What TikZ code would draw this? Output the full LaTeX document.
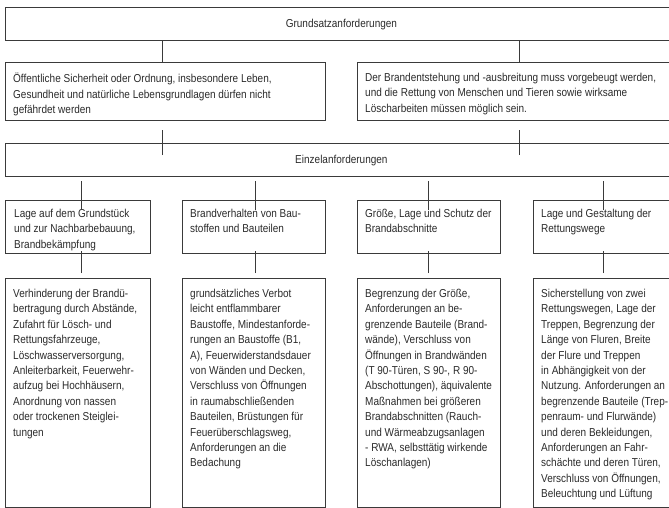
\documentclass[tikz,border=0pt]{standalone}
\usepackage{fontspec}
\setmainfont{Liberation Sans}[FakeStretch=0.87]
\definecolor{linec}{HTML}{3A3A3A}
\definecolor{textc}{HTML}{2A2A2A}
\newcommand{\fs}{\fontsize{11.5}{15.4}\selectfont}
\begin{document}
\begin{tikzpicture}[x=1pt,y=-1pt,
  box/.style={draw=linec, line width=0.8pt, inner sep=0pt, anchor=north west},
  txt/.style={anchor=north west, inner sep=0pt, align=left, font=\fs, text=textc},
  ctxt/.style={inner sep=0pt, font=\fs, text=textc},
  conn/.style={draw=linec, line width=0.8pt}]
\useasboundingbox (0,0) rectangle (669,507);
\clip (0,0) rectangle (669,507);
% top level
\node[box, minimum width=672pt, minimum height=33pt] (g) at (5,7) {};
\node[ctxt] (gt) at ([yshift=-1pt]g.center) {Grundsatzanforderungen};
\node[box, minimum width=320pt, minimum height=58pt] (a) at (5,62) {};
\node[box, minimum width=320pt, minimum height=58pt] (b) at (357,62) {};
\node[txt] (at) at ([shift={(8pt,-11pt)}]a.north west) {Öffentliche Sicherheit oder Ordnung, insbesondere Leben,\\Gesundheit und natürliche Lebensgrundlagen dürfen nicht\\gefährdet werden};
\node[txt] (bt) at ([shift={(8pt,-11pt)}]b.north west) {Der Brandentstehung und -ausbreitung muss vorgebeugt werden,\\und die Rettung von Menschen und Tieren sowie wirksame\\Löscharbeiten müssen möglich sein.};
\node[box, minimum width=672pt, minimum height=33pt] (e) at (5,143) {};
\node[ctxt] (et) at ([yshift=-1pt]e.center) {Einzelanforderungen};
% headers
\foreach \n/\x/\w in {h1/5/145, h2/182/143, h3/357/143, h4/533/144}{
  \node[box, minimum width=\w pt, minimum height=53pt] (\n) at (\x,200) {};
}
\foreach \n/\x/\w in {d1/5/145, d2/182/143, d3/357/143, d4/533/144}{
  \node[box, minimum width=\w pt, minimum height=228.5pt] (\n) at (\x,278) {};
}
\node[txt] (h1t) at ([shift={(9pt,-9pt)}]h1.north west) {Lage auf dem Grundstück\\und zur Nachbarbebauung,\\Brandbekämpfung};
\node[txt] (h2t) at ([shift={(8pt,-9pt)}]h2.north west) {Brandverhalten von Bau-\\stoffen und Bauteilen};
\node[txt] (h3t) at ([shift={(8pt,-9pt)}]h3.north west) {Größe, Lage und Schutz der\\Brandabschnitte};
\node[txt] (h4t) at ([shift={(8pt,-9pt)}]h4.north west) {Lage und Gestaltung der\\Rettungswege};
\node[txt] (d1t) at ([shift={(8pt,-11pt)}]d1.north west) {Verhinderung der Brandü-\\bertragung durch Abstände,\\Zufahrt für Lösch- und\\Rettungsfahrzeuge,\\Löschwasserversorgung,\\Anleiterbarkeit, Feuerwehr-\\aufzug bei Hochhäusern,\\Anordnung von nassen\\oder trockenen Steiglei-\\tungen};
\node[txt] (d2t) at ([shift={(8pt,-11pt)}]d2.north west) {grundsätzliches Verbot\\leicht entflammbarer\\Baustoffe, Mindestanforde-\\rungen an Baustoffe (B1,\\A), Feuerwiderstandsdauer\\von Wänden und Decken,\\Verschluss von Öffnungen\\in raumabschließenden\\Bauteilen, Brüstungen für\\Feuerüberschlagsweg,\\Anforderungen an die\\Bedachung};
\node[txt] (d3t) at ([shift={(8pt,-11pt)}]d3.north west) {Begrenzung der Größe,\\Anforderungen an be-\\grenzende Bauteile (Brand-\\wände), Verschluss von\\Öffnungen in Brandwänden\\(T 90-Türen, S 90-, R 90-\\Abschottungen), äquivalente\\Maßnahmen bei größeren\\Brandabschnitten (Rauch-\\und Wärmeabzugsanlagen\\- RWA, selbsttätig wirkende\\Löschanlagen)};
\node[txt] (d4t) at ([shift={(8pt,-11pt)}]d4.north west) {Sicherstellung von zwei\\Rettungswegen, Lage der\\Treppen, Begrenzung der\\Länge von Fluren, Breite\\der Flure und Treppen\\in Abhängigkeit von der\\Nutzung. Anforderungen an\\begrenzende Bauteile (Trep-\\penraum- und Flurwände)\\und deren Bekleidungen,\\Anforderungen an Fahr-\\schächte und deren Türen,\\Verschluss von Öffnungen,\\Beleuchtung und Lüftung};
% connectors
\draw[conn] (162,0 |- g.south) -- (162,0 |- a.north);
\draw[conn] (519,0 |- g.south) -- (519,0 |- b.north);
\draw[conn] ([yshift=-12pt]162,0 |- e.north) -- ([yshift=13pt]162,0 |- e.north);
\draw[conn] ([yshift=-12pt]519,0 |- e.north) -- ([yshift=13pt]519,0 |- e.north);
\foreach \n/\x in {h1/81, h2/255, h3/428, h4/603}{
  \draw[conn] ([yshift=-10pt]\x,0 |- \n.north) -- ([yshift=19pt]\x,0 |- \n.north);
}
\foreach \n/\x in {d1/81, d2/255, d3/428, d4/603}{
  \draw[conn] ([yshift=5pt]\x,0 |- \n.north) -- ([yshift=27pt]\x,0 |- \n.north);
}
\end{tikzpicture}
\end{document}
